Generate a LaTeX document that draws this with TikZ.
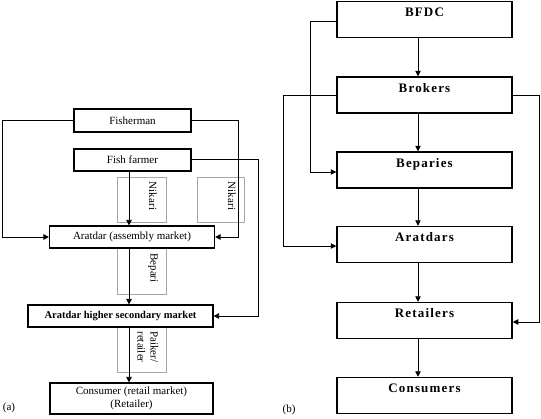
\documentclass[tikz,border=0pt]{standalone}
\usepackage{fontspec}
\setmainfont{Liberation Serif}
\newfontfamily\rfont[LetterSpace=9]{Liberation Serif}
\usetikzlibrary{arrows.meta}
\begin{document}
\begin{tikzpicture}[x=1pt,y=-1pt,
 arr/.style={-{Triangle[width=5.5pt,length=5.5pt]}, line width=0.8pt},
 lbox/.style={draw, line width=1.2pt, rectangle, inner sep=0pt, fill=white, font=\fontsize{11}{12.5}\selectfont, align=center},
 gbox/.style={draw=gray!70, line width=0.5pt, rectangle, inner sep=0pt},
 vlab/.style={rotate=-90, font=\fontsize{11}{13}\selectfont, inner sep=0pt, align=center},
 rbox/.style={draw, line width=1.5pt, rectangle, inner xsep=0pt, inner ysep=3pt, minimum width=175pt, text height=12pt, text depth=18pt, font=\rfont\bfseries\fontsize{13}{15}\selectfont},
 tag/.style={font=\fontsize{11}{12}\selectfont, inner sep=0pt},
]
\useasboundingbox (0,0) rectangle (541,418);
% ---------- panel (a) ----------
\coordinate (ax) at (129,0);
\coordinate (lx) at (2,0);
\coordinate (mx) at (238,0);
\coordinate (rx) at (258,0);
\node[gbox, minimum width=49pt, minimum height=45pt] (nik1) at (141.5,199.5) {};
\node[gbox, minimum width=47pt, minimum height=45pt] (nik2) at (220.5,199.5) {};
\node[gbox, minimum width=49pt, minimum height=46pt] (bep) at (141.5,271) {};
\node[gbox, minimum width=49pt, minimum height=45pt] (paik) at (141.5,349.5) {};
\node[vlab] (nik1t) at (153,196) {Nikari};
\node[vlab] (nik2t) at (232,196) {Nikari};
\node[vlab] (bept) at (153,268) {Bepari};
\node[vlab] (paikt) at (148,347) {Paiker/\\retailer};

\node[lbox, minimum width=117pt, minimum height=23pt] (fisher) at (132.5,120.5) {Fisherman};
\node[lbox, minimum width=117pt, minimum height=22pt] (farmer) at (132.5,160) {Fish farmer};
\node[lbox, minimum width=165pt, minimum height=22pt] (aratA) at (132,237) {Aratdar (assembly market)};
\node[lbox, minimum width=185pt, minimum height=22pt, font=\fontsize{10.5}{12}\selectfont\bfseries] (higher) at (120.5,316) {Aratdar higher secondary market};
\node[lbox, minimum width=163pt, minimum height=31pt] (cons) at (131.5,398.5) {Consumer (retail market)\\(Retailer)};

\draw[arr] (farmer.south -| ax) -- (aratA.north -| ax);
\draw[arr] (aratA.south -| ax) -- (higher.north -| ax);
\draw[arr] (higher.south -| ax) -- (cons.north -| ax);
\draw[arr] (fisher.west) -- (fisher.west -| lx) |- (aratA.west);
\draw[arr] (fisher.east) -- (fisher.east -| mx) |- (aratA.east);
\draw[arr] ([yshift=1pt]farmer.east) -- ([yshift=1pt]farmer.east -| rx) |- (higher.east);
\node[tag] (a) at (9,408) {(a)};

% ---------- panel (b) ----------
\coordinate (bx) at (418,0);
\coordinate (blx) at (310,0);
\coordinate (bllx) at (283,0);
\coordinate (brx) at (539,0);
\node[rbox] (bfdc) at (424.5,19.5) {BFDC};
\node[rbox] (brok) at (424.5,95) {Brokers};
\node[rbox] (bepa) at (424.5,170) {Beparies};
\node[rbox] (arat) at (424.5,244.5) {Aratdars};
\node[rbox] (ret) at (424.5,320.5) {Retailers};
\node[rbox] (consb) at (424.5,395.5) {Consumers};

\draw[arr] (bfdc.south -| bx) -- (brok.north -| bx);
\draw[arr] (brok.south -| bx) -- (bepa.north -| bx);
\draw[arr] (bepa.south -| bx) -- (arat.north -| bx);
\draw[arr] (arat.south -| bx) -- (ret.north -| bx);
\draw[arr] (ret.south -| bx) -- (consb.north -| bx);
\draw[arr] ([yshift=-1.5pt]bfdc.west) -- ([yshift=-1.5pt]bfdc.west -| blx) |- ([yshift=-2pt]bepa.west);
\draw[arr] (brok.west) -- (brok.west -| bllx) |- ([yshift=-1.5pt]arat.west);
\draw[arr] (brok.east) -- (brok.east -| brx) |- ([yshift=-1.5pt]ret.east);
\node[tag] (b) at (289,410) {(b)};
\end{tikzpicture}
\end{document}
